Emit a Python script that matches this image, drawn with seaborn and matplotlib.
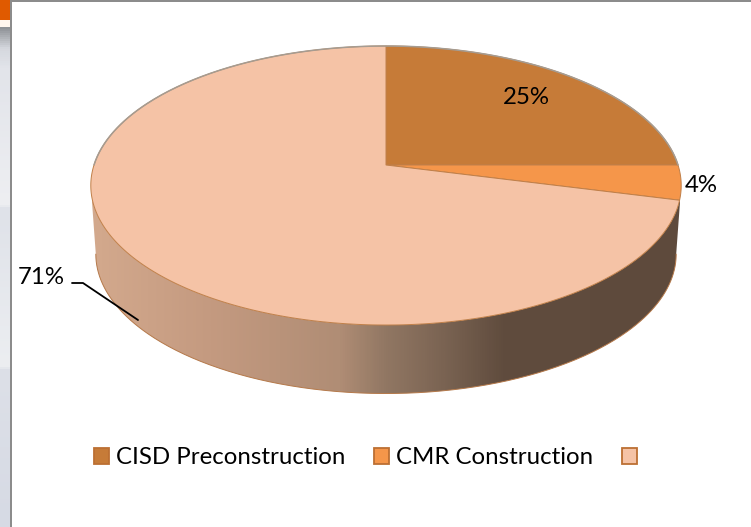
import matplotlib
matplotlib.use("Agg")
import numpy as np
import matplotlib.pyplot as plt
import seaborn as sns
from matplotlib.colors import LinearSegmentedColormap
from matplotlib.patches import Polygon, Rectangle

categories = ["CISD Preconstruction", "CMR Construction", ""]
values = [25, 4, 71]
pct_labels = ["25%", "4%", "71%"]
slice_colors = ["#C67B38", "#F5964A", "#F5C3A6"]

# side wall shading, left to right
side_stops = [0.0, 0.2, 0.42, 0.5, 0.6, 0.7, 1.0]
side_colors = ["#D3A98D", "#C49A80", "#B08D75", "#917763", "#7A6352", "#604C3E", "#5E4A3C"]

sns.set_theme(style="white")
plt.rcParams["font.family"] = ["Lato", "DejaVu Sans"]

W, H = 751, 527
fig = plt.figure(figsize=(W / 100, H / 100), dpi=100)
ax = fig.add_axes([0, 0, 1, 1])

# pie in the flat first, then tilted by hand below
wedges, _ = ax.pie(values, colors=slice_colors, startangle=90, counterclock=False)
thetas = [(w.theta1, w.theta2) for w in wedges]
for w in wedges:
    w.remove()


def project(u, v):
    # perspective of the unit disc, apex sits above the ellipse middle
    k = 1 + 0.147 * v
    return 386 + 292 * u / k, 165 - 136.5 * v / k


def lower(x, y):
    return 386 + 0.983 * (x - 386), y + 68.5


# side wall
t = np.radians(np.linspace(0, 360, 721))
rx, ry = project(np.cos(t), np.sin(t))
start = np.argmin(rx)
end = np.argmax(rx)
idx = np.arange(start, end + 1) if start < end else np.r_[start:len(t), 0:end + 1]
top_x, top_y = rx[idx], ry[idx]
low_x, low_y = lower(top_x, top_y)
side_xy = np.r_[np.c_[top_x, top_y], np.c_[low_x, low_y][::-1]]

cmap = LinearSegmentedColormap.from_list("side", list(zip(side_stops, side_colors)))
grad = ax.imshow(np.linspace(0, 1, 600)[None, :], cmap=cmap, extent=(92, 680, 400, 180),
                 aspect="auto", zorder=1)
side = Polygon(side_xy, closed=True, facecolor="none", edgecolor="none", transform=ax.transData)
ax.add_patch(side)
grad.set_clip_path(side)
ax.plot(low_x, low_y, color="#B5794A", lw=0.7, zorder=2)

# top face
handles = []
for (t1, t2), col in zip(thetas, slice_colors):
    a = np.radians(np.linspace(t1, t2, 300))
    x, y = project(np.cos(a), np.sin(a))
    xy = np.r_[[[386, 165]], np.c_[x, y]]
    p = Polygon(xy, closed=True, facecolor=col, edgecolor="#C07F48", lw=0.7, zorder=3)
    ax.add_patch(p)
    handles.append(p)

# grey rim on the back half
back = np.radians(np.linspace(0, 180, 300))
bx, by = project(np.cos(back), np.sin(back))
ax.plot(bx, by, color="#A59C92", lw=1.1, zorder=4)

# labels
ax.text(526, 97, pct_labels[0], fontsize=17.3, color="black", ha="center", va="center", zorder=5)
ax.text(701, 186, pct_labels[1], fontsize=17.3, color="black", ha="center", va="center", zorder=5)
ax.text(41, 278, pct_labels[2], fontsize=17.3, color="black", ha="center", va="center", zorder=5)
ax.plot([72, 83, 138], [283, 283, 320], color="black", lw=1.3, zorder=5)

# slide bits round the chart
strip_cmap = LinearSegmentedColormap.from_list(
    "strip", [(0, "#8F9296"), (0.04, "#D5D8DE"), (0.08, "#E2E4EA"), (0.355, "#EEEFF2"), (0.36, "#DFE2E9"),
              (0.68, "#ECEEF1"), (0.685, "#DDE0E8"), (1, "#D6DAE4")])
ax.imshow(np.linspace(0, 1, 500)[:, None], cmap=strip_cmap, extent=(0, 10, 527, 27), aspect="auto", zorder=1)
ax.add_patch(Rectangle((0, 0), 10, 20, facecolor="#E05A00", edgecolor="none", zorder=6))
ax.add_patch(Rectangle((0, 20), 10, 7, facecolor="#FFF6EE", edgecolor="none", zorder=6))
ax.add_patch(Rectangle((10, 0), 2, H, facecolor="#8C8C8C", edgecolor="none", zorder=6))
ax.add_patch(Rectangle((10, 0), W - 10, 2, facecolor="#8C8C8C", edgecolor="none", zorder=6))

ax.legend(handles, categories, ncol=3, loc="center", bbox_to_anchor=(369 / W, 1 - 458 / H),
          frameon=False, fontsize=17.3, handlelength=0.62, handleheight=0.62,
          handletextpad=0.3, columnspacing=1.2, labelcolor="black")
for h in ax.get_legend().legend_handles:
    h.set_edgecolor("#BC6F33")
    h.set_linewidth(1.3)

ax.set_xlim(0, W)
ax.set_ylim(H, 0)
ax.set_aspect("auto")
ax.axis("off")

fig.savefig("out.png", dpi=100)
